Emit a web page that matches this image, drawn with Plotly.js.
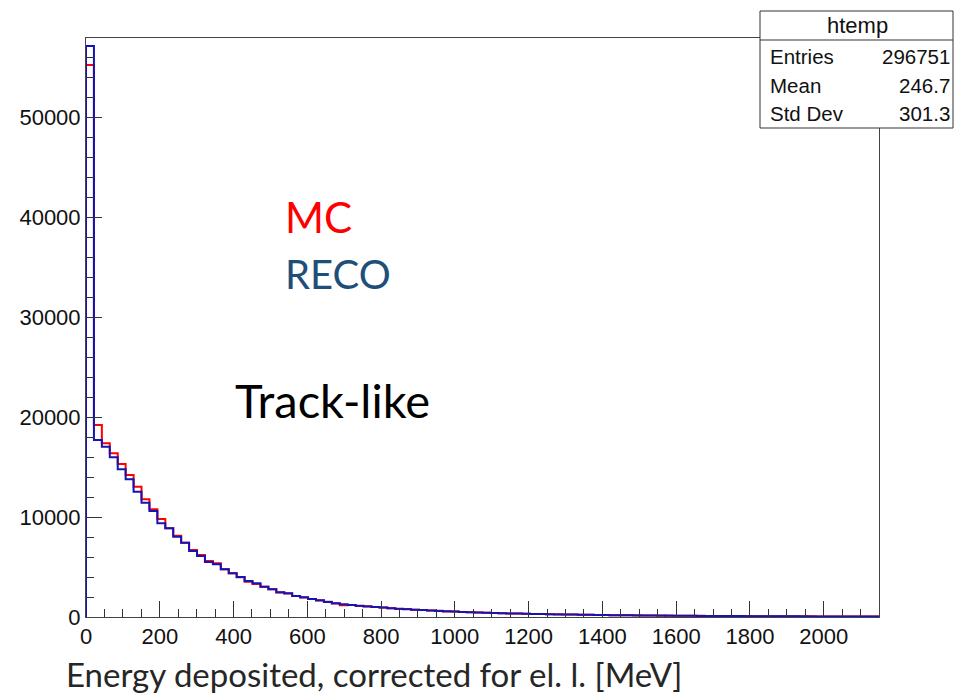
<!DOCTYPE html>
<html>
<head>
<meta charset="utf-8">
<script src="https://cdn.plot.ly/plotly-3.0.1.min.js"></script>
<style>html,body{margin:0;padding:0;background:#fff;}#chart{width:959px;height:696px;}</style>
</head>
<body>
<div id="chart"></div>
<script>
// Histogram settings (ROOT htemp): 100 bins from 0 to 2150 MeV
const xMin = 0;
const xMax = 2150;
const nBins = 100;

// RECO (blue) bin contents
const recoCounts = [
  57100, 17700, 17030, 15970, 14770, 13770, 12530, 11430, 10600, 9370,
  8870, 8030, 7430, 6600, 6100, 5500, 5270, 4770, 4370, 4000,
  3600, 3370, 3030, 2770, 2470, 2370, 2100, 1970, 1800, 1670,
  1500, 1380, 1270, 1210, 1120, 1060, 1000, 950, 880, 830,
  780, 730, 690, 655, 610, 570, 540, 500, 470, 445,
  420, 400, 380, 360, 345, 320, 305, 290, 275, 262,
  250, 238, 226, 215, 205, 195, 186, 178, 170, 162,
  154, 147, 140, 134, 128, 122, 117, 112, 107, 102,
  98, 94, 90, 86, 82, 79, 75, 72, 69, 66,
  63, 61, 58, 56, 53, 51, 49, 47, 45, 40
];

// MC (red) bin contents
const mcCounts = [
  55200, 19200, 17370, 16370, 15300, 14200, 13030, 11770, 10770, 9800,
  8870, 8130, 7430, 6700, 6200, 5600, 5370, 4770, 4370, 3980,
  3530, 3300, 3030, 2770, 2440, 2360, 2090, 1960, 1790, 1660,
  1520, 1360, 1180, 1190, 1100, 1070, 990, 960, 870, 810,
  790, 720, 700, 640, 620, 560, 545, 490, 480, 440,
  425, 390, 385, 350, 340, 330, 300, 295, 270, 265,
  245, 240, 220, 218, 200, 198, 180, 182, 165, 165,
  150, 150, 136, 138, 125, 124, 114, 116, 104, 105,
  95, 97, 87, 89, 80, 82, 73, 75, 66, 69,
  61, 63, 56, 58, 51, 53, 47, 49, 43, 38
];

// Tick labels
const xTickVals = [0, 200, 400, 600, 800, 1000, 1200, 1400, 1600, 1800, 2000];
const yTickVals = [0, 10000, 20000, 30000, 40000, 50000];

// Stats box content
const statsTitle = "htemp";
const statsNames = ["Entries", "Mean", "Std Dev"];
const statsValues = ["296751", "246.7", "301.3"];

// Text labels
const xTitle = "Energy deposited, corrected for el. l. [MeV]";

function stepTrace(counts, color) {
  const w = (xMax - xMin) / nBins;
  const xs = [xMin], ys = [0];
  for (let i = 0; i < counts.length; i++) {
    xs.push(xMin + i * w);
    ys.push(counts[i]);
  }
  xs.push(xMax);
  ys.push(counts[counts.length - 1]);
  return {
    type: 'scatter', mode: 'lines', x: xs, y: ys,
    line: {shape: 'hv', color: color, width: 2},
    hoverinfo: 'skip', showlegend: false
  };
}

// pixel -> paper helpers (plot area 86..879 x 38..617)
const L = 86, R = 879, T = 38, B = 617;
const px = p => (p - L) / (R - L);
const py = p => (B - p) / (B - T);

const rootFamily = 'Liberation Sans, Arial, sans-serif';
const tickFont = {family: rootFamily, size: 22, color: '#111'};
const statFont = {family: rootFamily, size: 20.5, color: '#111'};
const anns = [];
anns.push({xref: 'paper', yref: 'paper', x: px(857), y: py(26), text: statsTitle,
  showarrow: false, xanchor: 'center', yanchor: 'middle', font: {family: rootFamily, size: 22, color: '#111'}});
const rowsY = [57, 86, 114];
for (let i = 0; i < statsNames.length; i++) {
  anns.push({xref: 'paper', yref: 'paper', x: px(768), y: py(rowsY[i]), text: statsNames[i],
    showarrow: false, xanchor: 'left', yanchor: 'middle', font: statFont});
  anns.push({xref: 'paper', yref: 'paper', x: px(952), y: py(rowsY[i]), text: statsValues[i],
    showarrow: false, xanchor: 'right', yanchor: 'middle', font: statFont});
}
const calib = 'Lato, "Open Sans", sans-serif';
anns.push({xref: 'paper', yref: 'paper', x: px(283), y: py(217), text: 'MC', showarrow: false,
  xanchor: 'left', yanchor: 'middle', font: {family: calib, size: 42, color: '#ff0000'}});
anns.push({xref: 'paper', yref: 'paper', x: px(283), y: py(274), text: 'RECO', showarrow: false,
  xanchor: 'left', yanchor: 'middle', font: {family: calib, size: 40, color: '#1f4e79'}});
anns.push({xref: 'paper', yref: 'paper', x: px(233), y: py(400), text: 'Track-like', showarrow: false,
  xanchor: 'left', yanchor: 'middle', font: {family: calib, size: 47, color: '#000'}});
anns.push({xref: 'paper', yref: 'paper', x: px(65), y: py(674), text: xTitle, showarrow: false,
  xanchor: 'left', yanchor: 'middle', borderpad: 0, font: {family: calib, size: 33, color: '#262626'}});

const shapes = [
  {type: 'rect', xref: 'paper', yref: 'paper', x0: px(760), x1: px(953), y0: py(128), y1: py(11),
   line: {color: '#333', width: 1}, fillcolor: '#fff', layer: 'above'},
  {type: 'line', xref: 'paper', yref: 'paper', x0: px(760), x1: px(953), y0: py(40), y1: py(40),
   line: {color: '#333', width: 1}, layer: 'above'}
];

const axisCommon = {
  showgrid: false, zeroline: false, showline: true, linecolor: '#444', linewidth: 1, mirror: true,
  ticks: 'inside', ticklen: 16, tickcolor: '#333', tickwidth: 1,
  tickfont: tickFont
};

const layout = {
  width: 959, height: 696,
  margin: {l: L, r: 959 - R, t: T, b: 696 - B},
  paper_bgcolor: '#fff', plot_bgcolor: '#fff',
  xaxis: Object.assign({}, axisCommon, {
    range: [xMin, xMax], tickmode: 'array', tickvals: xTickVals, ticktext: xTickVals.map(String),
    minor: {dtick: 50, tick0: 0, ticks: 'inside', ticklen: 8, tickcolor: '#333', showgrid: false}
  }),
  yaxis: Object.assign({}, axisCommon, {
    range: [0, 57900], tickmode: 'array', tickvals: yTickVals, ticktext: yTickVals.map(String),
    minor: {dtick: 2000, tick0: 0, ticks: 'inside', ticklen: 8, tickcolor: '#333', showgrid: false}
  }),
  annotations: anns,
  shapes: shapes,
  showlegend: false
};

Plotly.newPlot('chart', [stepTrace(mcCounts, '#ff0000'), stepTrace(recoCounts, '#1414b4')], layout,
  {displayModeBar: false, staticPlot: true});
</script>
</body>
</html>
